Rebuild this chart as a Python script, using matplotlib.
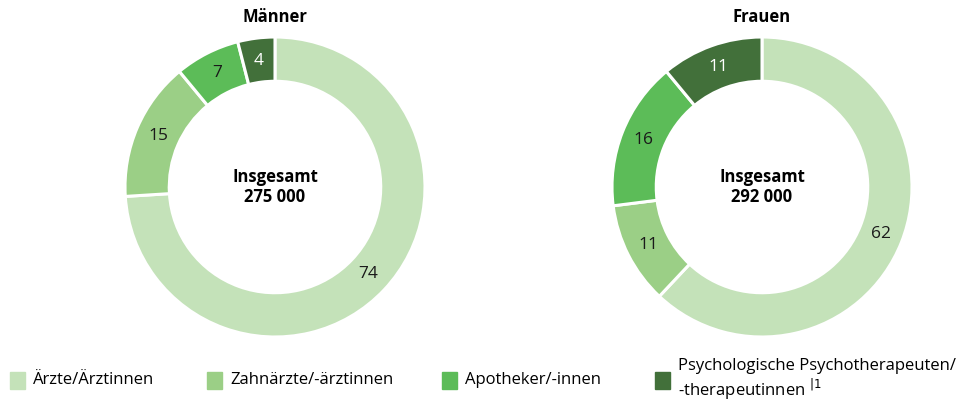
import matplotlib.pyplot as plt
from matplotlib.patches import Rectangle

plt.rcParams['font.family'] = ['Open Sans', 'DejaVu Sans']

# Anteile in Prozent
categories = ['Ärzte/Ärztinnen', 'Zahnärzte/-ärztinnen', 'Apotheker/-innen',
              'Psychologische Psychotherapeuten/\n-therapeutinnen $^{|1}$']
maenner = [74, 15, 7, 4]
frauen = [62, 11, 16, 11]
totals = ['275 000', '292 000']
titles = ['Männer', 'Frauen']

colors = ['#c4e2b9', '#9bcf86', '#5cbc58', '#42703a']
text_colors = ['#1a1a1a', '#1a1a1a', '#1a1a1a', 'white']

W, H = 968, 401
fig = plt.figure(figsize=(W / 100, H / 100), dpi=100)

centers = [(275, 187), (762, 187)]
R = 150
for (cx, cy), vals, title, total in zip(centers, [maenner, frauen], titles, totals):
    ax = fig.add_axes([(cx - R) / W, (H - cy - R) / H, 2 * R / W, 2 * R / H])
    wedges, texts = ax.pie(vals, colors=colors, startangle=90, counterclock=False,
                           radius=1.0, labels=[str(v) for v in vals],
                           labeldistance=0.85,
                           wedgeprops=dict(width=0.295, edgecolor='white', linewidth=2.2),
                           textprops=dict(fontsize=12.5))
    for t, c in zip(texts, text_colors):
        t.set_color(c)
        t.set_ha('center')
        t.set_va('center')
    ax.set_xlim(-1, 1)
    ax.set_ylim(-1, 1)
    ax.set_aspect('equal')
    ax.axis('off')
    ax.text(0, 0, f'Insgesamt\n{total}', ha='center', va='center',
            fontsize=12, fontweight='bold', linespacing=1.2)
    fig.text(cx / W, 1 - 17 / H, title, ha='center', va='center',
             fontsize=12, fontweight='bold')

# Legende
leg_x = [10, 207, 442, 655]
for x, c, lab in zip(leg_x, colors, categories):
    fig.patches.append(Rectangle((x / W, 1 - 389 / H), 15 / W, 17 / H,
                                 transform=fig.transFigure, color=c))
    fig.text((x + 23) / W, 1 - 380 / H, lab, ha='left', va='center',
             fontsize=12, linespacing=1.2)

fig.savefig('out.png', dpi=100)
